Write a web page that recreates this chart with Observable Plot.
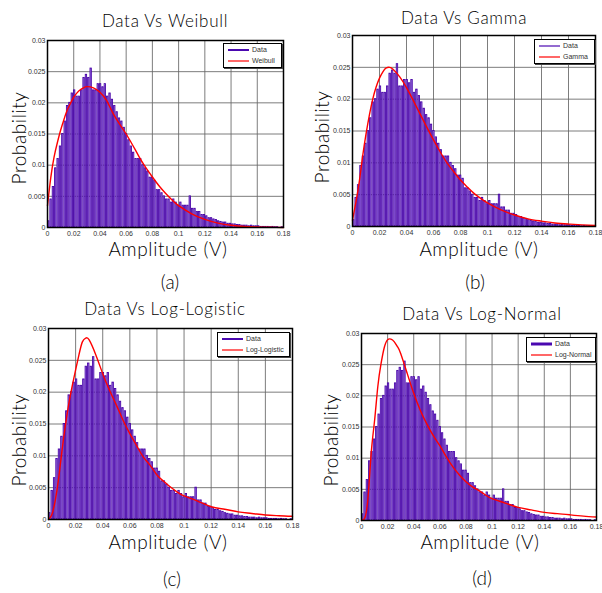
<!DOCTYPE html>
<html><head><meta charset="utf-8">
<script src="https://cdn.jsdelivr.net/npm/d3@7"></script>
<script src="https://cdn.jsdelivr.net/npm/@observablehq/plot@0.6"></script>
<style>
body{margin:0;background:#fff;}
#root{position:relative;width:602px;height:593px;overflow:hidden;background:#fff;}
.t{position:absolute;transform:translate(-50%,-50%);white-space:nowrap;font-family:Lato,"Open Sans",sans-serif;font-weight:300;color:#000;}
.title{font-size:17px;letter-spacing:0.7px;}
.lab{font-size:19px;letter-spacing:0.6px;}
.pan{font-size:19px;}
.leg{position:absolute;background:#fff;border:1.5px solid #000;box-shadow:1px 1px 0 #444;font-family:"Liberation Sans",Arial,sans-serif;font-size:7px;color:#333;}
.leg div{display:flex;align-items:center;height:11px;}
</style>
</head><body>
<div id="root"></div>
<script>
// ---- data ----
const binWidth = 0.0018;
// histogram probability per bin (x 0.001), bins starting at 0
const histVals = [1.0,4.5,6.5,9.5,11,13,15,17,19.5,20,21.5,22,21,21,22,24,24.5,24,25.5,22,22,23,23,22.5,23,21,21.5,20.5,19.5,18.5,17.5,17,16,15,14,13,12,11,11,11,10,9.5,9,8,8,7.5,6,6,5.5,5,4.5,4.5,4,4.5,4,3.5,4,3.5,3.5,3.5,5,3,3,2.5,2.5,2,2,1.8,1.5,1.5,1.3,1.2,1.0,0.9,0.8,0.8,0.6,0.6,0.5,0.5,0.4,0.4,0.3,0.3,0.3,0.2,0.3,0.2,0.2,0.2,0.1,0.1,0.1,0.1,0.05,0.1,0.05,0.05,0,0.05];

const curveX = [0,0.0025,0.005,0.0075,0.01,0.0125,0.015,0.0175,0.02,0.0225,0.025,0.0275,0.03,0.035,0.04,0.045,0.05,0.055,0.06,0.065,0.07,0.075,0.08,0.085,0.09,0.095,0.1,0.11,0.12,0.13,0.14,0.15,0.16,0.17,0.18];
const weibullY = [3.5,8.0,11.3,13.6,15.6,17.3,18.8,19.9,20.9,21.6,22.1,22.4,22.6,22.4,21.7,20.4,18.3,16.6,15.0,13.2,11.3,9.6,8.1,6.7,5.5,4.4,3.5,2.2,1.3,0.7,0.35,0.15,0.07,0.03,0.01];
const gammaY = [1.0,3.8,7.0,11.0,14.5,17.5,20.0,21.9,23.3,24.3,24.9,25.0,24.7,23.5,21.8,19.8,17.7,15.6,13.6,11.7,10.0,8.6,7.3,6.2,5.2,4.4,3.7,2.6,1.8,1.2,0.85,0.55,0.38,0.25,0.15];
const loglogY = [0,0.8,3.0,6.5,10.9,14.8,18.2,21.0,23.5,25.9,27.9,28.5,28.2,25.8,22.9,20.3,18.0,15.6,13.5,11.6,9.8,8.5,7.0,6.0,5.1,4.3,3.7,2.9,2.0,1.6,1.2,0.95,0.7,0.6,0.5];
const lognormY = [0,0.4,3.7,11.0,16.0,21.5,25.2,27.8,29.0,29.1,28.7,27.9,26.8,23.6,20.4,17.7,15.5,13.6,12.0,10.2,8.6,7.3,6.2,5.4,4.8,4.1,3.5,2.8,2.1,1.7,1.3,1.1,0.9,0.7,0.55];

const xTicks = [0,0.02,0.04,0.06,0.08,0.1,0.12,0.14,0.16,0.18];
const xTickLabels = ["0","0.02","0.04","0.06","0.08","0.1","0.12","0.14","0.16","0.18"];
const yTicks = [0,0.005,0.01,0.015,0.02,0.025,0.03];
const yTickLabels = ["0","0.005","0.01","0.015","0.02","0.025","0.03"];

const titles = ["Data Vs Weibull","Data Vs Gamma","Data Vs Log-Logistic","Data Vs Log-Normal"];
const fitNames = ["Weibull","Gamma","Log-Logistic","Log-Normal"];
const panelTags = ["(a)","(b)","(c)","(d)"];
const fits = [weibullY, gammaY, loglogY, lognormY];

// ---- build ----
const bins = histVals.map((v,i)=>({x1:i*binWidth, x2:(i+1)*binWidth, p:v/1000}));
const root = document.getElementById("root");

const layouts = [
  {left:0,top:0,w:300,h:240,mL:47,mR:17,mT:40,mB:13,
   title:[165,20],ylab:[18,138],xlab:[168,248],tag:[170,281],leg:{x:223,y:43,w:57,h:23,lw:2}},
  {left:300,top:0,w:302,h:240,mL:52,mR:7,mT:35,mB:14,
   title:[464,17],ylab:[321,137],xlab:[479,248],tag:[475,281],leg:{x:534,y:39,w:59,h:23,lw:1.2}},
  {left:0,top:290,w:300,h:240,mL:48,mR:8,mT:38,mB:11,
   title:[165,308],ylab:[18,440],xlab:[168,541],tag:[172,578],leg:{x:217,y:332,w:71,h:23,lw:2}},
  {left:300,top:290,w:302,h:240,mL:61,mR:6,mT:43,mB:10,
   title:[482,313],ylab:[330,440],xlab:[480,541],tag:[482,577],leg:{x:526,y:337,w:68,h:23,lw:3}}
];

layouts.forEach((L,k)=>{
  const pts = curveX.map((x,i)=>({x, y:fits[k][i]/1000}));
  const chart = Plot.plot({
    width:L.w, height:L.h,
    marginLeft:L.mL, marginRight:L.mR, marginTop:L.mT, marginBottom:L.mB,
    style:{fontFamily:"'Liberation Sans',Arial,sans-serif",fontSize:"7px",color:"#333",background:"transparent",overflow:"visible"},
    x:{domain:[0,0.18]},
    y:{domain:[0,0.03]},
    marks:[
      Plot.gridX(xTicks,{stroke:"#666",strokeOpacity:0.85}),
      Plot.gridY(yTicks,{stroke:"#666",strokeOpacity:0.85}),
      Plot.rectY(bins,{x1:"x1",x2:"x2",y:"p",fill:"#9c74e2",stroke:"#4600a6",strokeWidth:0.85,insetLeft:0.5,insetRight:0.5}),
      Plot.line(pts,{x:"x",y:"y",stroke:"#ff0000",strokeWidth:1.4,curve:"natural"}),
      Plot.axisX(xTicks,{tickSize:0,tickPadding:4,label:null,tickFormat:d=>xTickLabels[xTicks.indexOf(d)]}),
      Plot.axisY(yTicks,{tickSize:0,tickPadding:2,label:null,tickFormat:d=>yTickLabels[yTicks.indexOf(d)]}),
      Plot.frame({stroke:"#000",strokeWidth:1.5})
    ]
  });
  chart.style.position="absolute";
  chart.style.left=L.left+"px";
  chart.style.top=L.top+"px";
  root.appendChild(chart);

  const addText=(cls,txt,pos,rot)=>{
    const d=document.createElement("div");
    d.className="t "+cls;
    d.textContent=txt;
    d.style.left=pos[0]+"px"; d.style.top=pos[1]+"px";
    if(rot) d.style.transform="translate(-50%,-50%) rotate(-90deg)";
    root.appendChild(d);
  };
  addText("title",titles[k],L.title);
  addText("lab","Probability",L.ylab,true);
  addText("lab","Amplitude (V)",L.xlab);
  addText("pan",panelTags[k],L.tag);

  const lg=document.createElement("div");
  lg.className="leg";
  lg.style.left=L.leg.x+"px"; lg.style.top=L.leg.y+"px";
  lg.style.width=L.leg.w+"px"; lg.style.height=L.leg.h+"px";
  lg.innerHTML=
    `<div><svg width="28" height="6"><line x1="4" x2="25" y1="3" y2="3" stroke="#4a08b0" stroke-width="${L.leg.lw}"/></svg><span>Data</span></div>`+
    `<div><svg width="28" height="6"><line x1="4" x2="25" y1="3" y2="3" stroke="#ff0000" stroke-width="1.2"/></svg><span>${fitNames[k]}</span></div>`;
  root.appendChild(lg);
});
</script>
</body></html>
